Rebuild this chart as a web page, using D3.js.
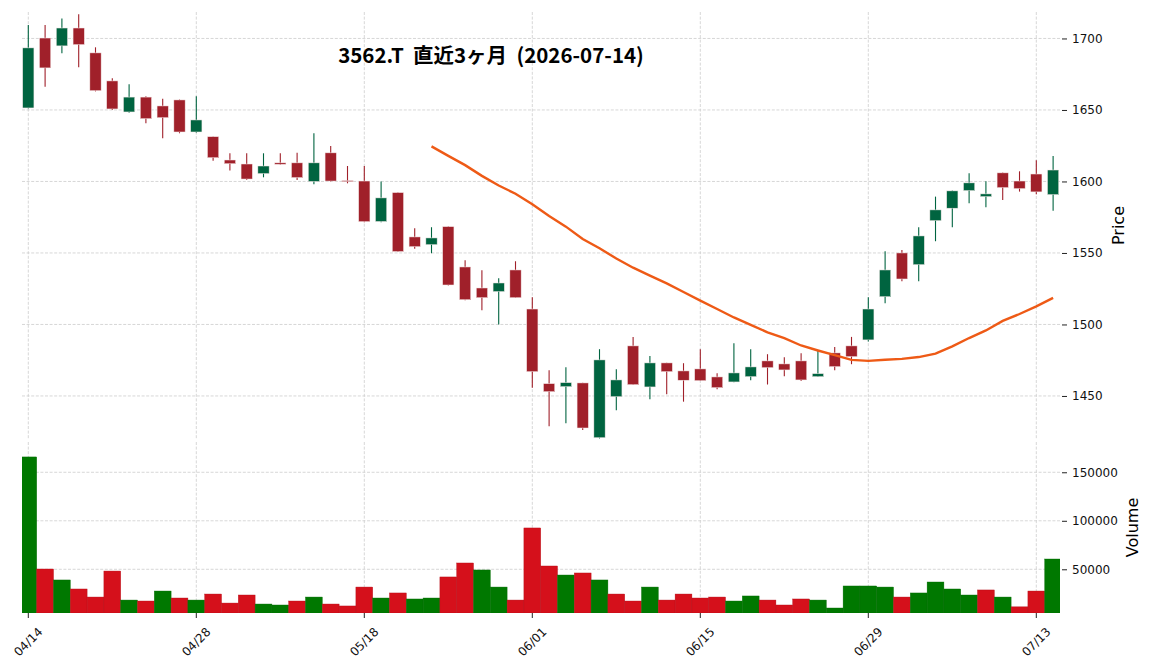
<!DOCTYPE html>
<html>
<head>
<meta charset="utf-8">
<script src="https://cdn.jsdelivr.net/npm/d3@7"></script>
<style>
  body { margin: 0; background: #fff; }
  text { font-family: "DejaVu Sans", sans-serif; }
</style>
</head>
<body>
<svg id="chart" width="1152" height="670"></svg>
<script>
// daily bars, 3562.T, 2026-04-14 .. 2026-07-14
var dates = ["04/14","04/15","04/16","04/17","04/20","04/21","04/22","04/23","04/24","04/27",
  "04/28","04/30","05/01","05/07","05/08","05/11","05/12","05/13","05/14","05/15",
  "05/18","05/19","05/20","05/21","05/22","05/25","05/26","05/27","05/28","05/29",
  "06/01","06/02","06/03","06/04","06/05","06/08","06/09","06/10","06/11","06/12",
  "06/15","06/16","06/17","06/18","06/19","06/22","06/23","06/24","06/25","06/26",
  "06/29","06/30","07/01","07/02","07/03","07/06","07/07","07/08","07/09","07/10",
  "07/13","07/14"];

var opens = [1651.4,1700.3,1694.8,1707.3,1689.9,1670.3,1648.6,1659.0,1652.8,1657.0,
  1634.6,1631.3,1615.0,1612.2,1605.5,1613.0,1613.0,1600.0,1620.0,1600.6,
  1600.3,1572.0,1592.2,1561.2,1555.8,1568.4,1540.2,1525.5,1523.0,1538.1,
  1510.8,1458.6,1456.5,1459.1,1420.8,1449.5,1485.0,1456.3,1473.1,1467.5,
  1468.9,1463.3,1459.8,1463.5,1474.5,1472.4,1474.5,1463.5,1480.1,1485.0,
  1489.2,1519.4,1550.0,1541.8,1572.6,1581.3,1593.6,1589.4,1606.0,1600.3,
  1605.2,1590.8];

var highs = [1709.4,1709.4,1714.0,1717.0,1693.8,1672.2,1668.0,1659.6,1657.9,1657.3,
  1659.6,1631.5,1619.7,1619.7,1619.7,1619.7,1620.0,1633.7,1624.8,1610.8,
  1610.8,1600.0,1592.5,1567.3,1568.0,1568.6,1544.9,1537.9,1532.3,1544.2,
  1519.0,1468.0,1470.0,1459.3,1482.7,1468.7,1491.3,1478.0,1473.3,1472.9,
  1482.7,1465.9,1486.8,1482.7,1479.2,1477.0,1479.9,1482.0,1484.3,1491.3,
  1519.0,1551.2,1552.1,1568.0,1589.4,1593.6,1605.7,1600.1,1606.2,1607.1,
  1614.8,1617.8];

var lows = [1651.0,1666.3,1689.6,1679.9,1663.0,1650.0,1648.0,1640.7,1630.2,1633.7,
  1634.0,1614.5,1607.6,1601.0,1602.9,1611.7,1601.0,1598.0,1600.0,1598.7,
  1571.5,1571.5,1550.6,1553.0,1549.8,1527.3,1517.0,1510.0,1500.0,1518.5,
  1455.8,1428.8,1431.0,1426.2,1420.3,1440.0,1457.7,1447.7,1451.2,1446.0,
  1460.5,1454.7,1459.6,1461.0,1458.0,1463.8,1460.5,1463.3,1468.0,1472.2,
  1488.0,1514.8,1530.2,1530.2,1558.2,1568.0,1584.8,1582.0,1587.0,1592.9,
  1591.0,1579.6];

var closes = [1693.4,1679.4,1707.3,1695.7,1663.5,1650.7,1659.0,1643.9,1644.6,1634.6,
  1643.0,1616.6,1612.4,1601.7,1610.8,1612.0,1602.7,1613.0,1600.3,1600.0,
  1571.9,1588.5,1551.0,1554.4,1560.5,1527.6,1517.3,1518.7,1529.0,1518.7,
  1467.0,1453.0,1459.3,1427.6,1475.2,1461.2,1457.9,1473.1,1467.0,1461.0,
  1460.7,1455.8,1466.1,1470.3,1469.8,1468.2,1461.2,1465.6,1470.5,1477.5,
  1510.8,1538.1,1531.8,1561.9,1580.1,1593.4,1599.0,1591.3,1595.7,1595.0,
  1592.7,1608.0];

var volumes = [165800,50300,39000,29700,21400,48200,18300,17300,27600,20400,
  18300,24500,15200,23500,14200,13200,17300,21400,14200,12200,
  31700,20400,25600,19400,20400,42100,56500,49300,31700,18300,
  92600,53400,44100,46200,39000,24500,17300,31700,18300,24500,
  20400,21400,17300,22500,18300,13200,19400,18300,10100,32800,
  32800,31700,21400,25600,36900,29700,23500,28700,21400,11300,
  27600,60600];

// 25 day moving average, first value on bar 24
var ma25 = [null,null,null,null,null,null,null,null,null,null,
  null,null,null,null,null,null,null,null,null,null,
  null,null,null,null,1624.5,1617.9,1611.4,1603.9,1597.2,1591.4,
  1584.1,1575.8,1568.4,1559.7,1553.3,1546.1,1539.7,1534.1,1528.7,1522.7,
  1516.7,1510.8,1504.9,1499.7,1494.5,1490.4,1485.3,1481.8,1478.5,1475.2,
  1474.5,1475.3,1475.9,1477.2,1479.6,1484.7,1490.5,1495.8,1502.5,1507.3,
  1512.6,1518.6];

var priceTicks = [1450, 1500, 1550, 1600, 1650, 1700];
var volTicks = [50000, 100000, 150000];
var dateTicks = [0, 10, 20, 30, 40, 50, 60];

var title = "3562.T  直近3ヶ月  (2026-07-14)";

var upCandle = "#006440", downCandle = "#a0202a";
var upVol = "#007800", downVol = "#d5101b";
var maColor = "#ee5a16", gridColor = "#cdcdcd";

var svg = d3.select("#chart");
var left = 22, right = 1060;
var pTop = 12, pBot = 439, vTop = 442, vBot = 613;

var x = d3.scaleLinear().domain([-0.375, 61.41]).range([left, right]);
var step = x(1) - x(0);
var yP = d3.scaleLinear().domain([1419.9, 1718.5]).range([pBot, pTop]);
var yV = d3.scaleLinear().domain([4950, 181200]).range([vBot, vTop]);

var clip = svg.append("defs");
clip.append("clipPath").attr("id", "clipP")
  .append("rect").attr("x", left).attr("y", pTop).attr("width", right - left).attr("height", pBot - pTop);
clip.append("clipPath").attr("id", "clipV")
  .append("rect").attr("x", left).attr("y", vTop).attr("width", right - left).attr("height", vBot - vTop);

// grid
function grid(g, ys, xs, y0, y1) {
  g.selectAll(".h").data(ys).enter().append("line")
    .attr("x1", left).attr("x2", right).attr("y1", function(d){return d;}).attr("y2", function(d){return d;});
  g.selectAll(".v").data(xs).enter().append("line")
    .attr("x1", function(d){return d;}).attr("x2", function(d){return d;}).attr("y1", y0).attr("y2", y1);
  g.selectAll("line").attr("stroke", gridColor).attr("stroke-width", 0.8).attr("stroke-dasharray", "3,1.6");
}
grid(svg.append("g"), priceTicks.map(yP), dateTicks.map(x), pTop, pBot);
grid(svg.append("g"), volTicks.map(yV), dateTicks.map(x), vTop, vBot);

// volume, coloured on close vs previous close
var idx = d3.range(dates.length);
function vup(i) { return i == 0 || closes[i] > closes[i-1]; }
svg.append("g").attr("clip-path", "url(#clipV)")
  .selectAll("rect").data(idx).enter().append("rect")
  .attr("x", function(i){return x(i) - step / 2;})
  .attr("width", step)
  .attr("y", function(i){return yV(volumes[i]);})
  .attr("height", function(i){return vBot - yV(volumes[i]);})
  .attr("fill", function(i){return vup(i) ? upVol : downVol;})
  .attr("stroke", function(i){return vup(i) ? "#006a00" : "#b30c16";})
  .attr("stroke-width", 0.4);

// candles
var cg = svg.append("g").attr("clip-path", "url(#clipP)");
function col(i) { return closes[i] >= opens[i] ? upCandle : downCandle; }
cg.selectAll("line").data(idx).enter().append("line")
  .attr("x1", function(i){return x(i);}).attr("x2", function(i){return x(i);})
  .attr("y1", function(i){return yP(highs[i]);}).attr("y2", function(i){return yP(lows[i]);})
  .attr("stroke", col).attr("stroke-width", 1.1);
var bw = step * 0.67;
cg.selectAll("rect").data(idx).enter().append("rect")
  .attr("x", function(i){return x(i) - bw / 2;})
  .attr("width", bw)
  .attr("y", function(i){return yP(Math.max(opens[i], closes[i]));})
  .attr("height", function(i){return Math.max(1, Math.abs(yP(opens[i]) - yP(closes[i])));})
  .attr("fill", col)
  .attr("stroke", "#f3e6e6").attr("stroke-width", 0.5);

// moving average
var line = d3.line()
  .defined(function(i){return ma25[i] != null;})
  .x(function(i){return x(i);})
  .y(function(i){return yP(ma25[i]);});
cg.append("path").attr("d", line(idx))
  .attr("fill", "none").attr("stroke", maColor).attr("stroke-width", 2.4);

// right axes
var yAxisP = d3.axisRight(yP).tickValues(priceTicks).tickSize(5).tickPadding(5).tickFormat(d3.format("d"));
var yAxisV = d3.axisRight(yV).tickValues(volTicks).tickSize(5).tickPadding(5).tickFormat(d3.format("d"));
[yAxisP, yAxisV].forEach(function(a) {
  var g = svg.append("g").attr("transform", "translate(" + (right + 2) + ",0)").call(a);
  g.select(".domain").remove();
  g.selectAll(".tick line").attr("stroke", "#222").attr("stroke-width", 1);
  g.selectAll(".tick text").attr("font-size", 12).attr("fill", "#111");
});

svg.append("text").attr("transform", "translate(1124," + ((pTop + pBot) / 2) + ") rotate(-90)")
  .attr("text-anchor", "middle").attr("font-size", 16).attr("fill", "#000").text("Price");
svg.append("text").attr("transform", "translate(1138," + ((vTop + vBot) / 2) + ") rotate(-90)")
  .attr("text-anchor", "middle").attr("font-size", 16).attr("fill", "#000").text("Volume");

// x ticks
var xg = svg.append("g");
xg.selectAll("line").data(dateTicks).enter().append("line")
  .attr("x1", function(i){return x(i);}).attr("x2", function(i){return x(i);})
  .attr("y1", vBot).attr("y2", vBot + 5).attr("stroke", "#222");
xg.selectAll("text").data(dateTicks).enter().append("text")
  .attr("transform", function(i){return "translate(" + x(i) + ",642) rotate(-45)";})
  .attr("text-anchor", "middle").attr("dominant-baseline", "central")
  .attr("font-size", 12).attr("fill", "#111")
  .text(function(i){return dates[i];});

// title
svg.append("text").attr("x", 491).attr("y", 63)
  .attr("text-anchor", "middle")
  .style("font-family", "'Noto Sans CJK JP', sans-serif")
  .style("font-weight", "bold").style("font-size", "20.5px")
  .style("white-space", "pre")
  .attr("fill", "#000")
  .text(title);
</script>
</body>
</html>
